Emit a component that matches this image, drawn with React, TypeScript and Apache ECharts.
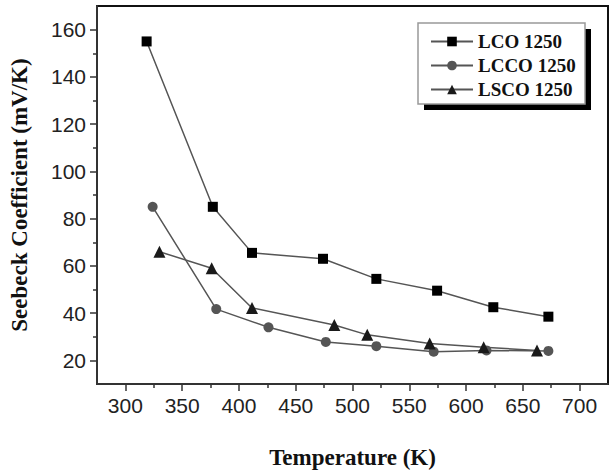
import React, { useEffect, useRef } from "react";
import * as echarts from "echarts";

const lcoData: [number, number][] = [
  [318.7, 155], [377, 85], [411.5, 65.5], [474, 63], [521, 54.5], [574.5, 49.5], [624, 42.5], [672.5, 38.5],
];
const lccoData: [number, number][] = [
  [324, 85], [380, 41.7], [426, 34], [476.5, 27.8], [521, 26], [571.5, 23.7], [618, 24.2], [672.5, 24],
];
const lscoData: [number, number][] = [
  [330, 66], [376, 59], [411.5, 42.2], [484, 35], [513, 30.8], [568, 27.1], [615.5, 25.6], [662.5, 24.2],
];
const xMajorTicks = [300, 350, 400, 450, 500, 550, 600, 650, 700];
const xMinorTicks = [325, 375, 425, 475, 525, 575, 625, 675];
const yMajorTicks = [20, 40, 60, 80, 100, 120, 140, 160];
const yMinorTicks = [30, 50, 70, 90, 110, 130, 150];
const seriesNames = ["LCO 1250", "LCCO 1250", "LSCO 1250"];

export default function App() {
  const ref = useRef<HTMLDivElement>(null);
  useEffect(() => {
    if (!ref.current) return;
    const chart = echarts.init(ref.current, null, { renderer: "svg" });
    const labelStyle = { fontFamily: "Liberation Sans", fontSize: 21, color: "#222" };
    const nameStyle = { fontFamily: "Liberation Serif", fontWeight: "bold" as const, fontSize: 23, color: "#111" };
    const lineCol = "#555";
    chart.setOption({
      animation: false,
      backgroundColor: "#fff",
      grid: { left: 84, right: 3, top: 6, bottom: 79, show: true, borderColor: "#111", borderWidth: 2, backgroundColor: "transparent" },
      xAxis: [
        {
          type: "value", min: 275, max: 725, position: "bottom",
          name: "Temperature (K)", nameLocation: "middle", nameGap: 62, nameTextStyle: nameStyle,
          axisLine: { show: true, lineStyle: { color: "#333", width: 2 } },
          axisTick: { show: true, inside: false, length: 7, customValues: xMajorTicks, lineStyle: { color: "#333", width: 1.5 } },
          axisLabel: { show: true, customValues: xMajorTicks, margin: 11, ...labelStyle },
          splitLine: { show: false },
        },
        {
          type: "value", min: 275, max: 725, position: "bottom",
          axisLine: { show: false },
          axisTick: { show: true, inside: false, length: 4, customValues: xMinorTicks, lineStyle: { color: "#333", width: 1.5 } },
          axisLabel: { show: false },
          splitLine: { show: false },
        },
      ],
      yAxis: [
        {
          type: "value", min: 10, max: 170, position: "left",
          name: "Seebeck Coefficient (mV/K)", nameLocation: "middle", nameGap: 66, nameTextStyle: nameStyle,
          axisLine: { show: true, lineStyle: { color: "#333", width: 2 } },
          axisTick: { show: true, inside: false, length: 7, customValues: yMajorTicks, lineStyle: { color: "#333", width: 1.5 } },
          axisLabel: { show: true, customValues: yMajorTicks, margin: 11, ...labelStyle },
          splitLine: { show: false },
        },
        {
          type: "value", min: 10, max: 170, position: "left",
          axisLine: { show: false },
          axisTick: { show: true, inside: false, length: 4, customValues: yMinorTicks, lineStyle: { color: "#333", width: 1.5 } },
          axisLabel: { show: false },
          splitLine: { show: false },
        },
      ],
      graphic: [
        { type: "rect", z: 3, shape: { x: 424, y: 29, width: 167, height: 81 }, style: { fill: "#000" } },
        { type: "rect", z: 3, shape: { x: 418, y: 23, width: 167, height: 81 }, style: { fill: "#fff", stroke: "#999", lineWidth: 1.5 } },
      ],
      legend: {
        show: true, orient: "vertical", left: 430, top: 32, padding: 0, itemGap: 5,
        itemWidth: 42, itemHeight: 12, z: 5,
        textStyle: { fontFamily: "Liberation Serif", fontWeight: "bold", fontSize: 19, color: "#111", lineHeight: 19 },
        data: seriesNames,
      },
      series: [
        {
          name: seriesNames[0], type: "line", data: lcoData, xAxisIndex: 0, yAxisIndex: 0,
          symbol: "rect", symbolSize: 10,
          lineStyle: { color: lineCol, width: 1.5 }, itemStyle: { color: "#000" },
        },
        {
          name: seriesNames[1], type: "line", data: lccoData, xAxisIndex: 0, yAxisIndex: 0,
          symbol: "circle", symbolSize: 10,
          lineStyle: { color: lineCol, width: 1.5 }, itemStyle: { color: "#555" },
        },
        {
          name: seriesNames[2], type: "line", data: lscoData, xAxisIndex: 0, yAxisIndex: 0,
          symbol: "triangle", symbolSize: 12,
          lineStyle: { color: lineCol, width: 1.5 }, itemStyle: { color: "#1a1a1a" },
        },
      ],
    });
    return () => chart.dispose();
  }, []);
  return <div ref={ref} style={{ position: "fixed", left: 0, top: 0, width: 611, height: 474 }} />;
}
